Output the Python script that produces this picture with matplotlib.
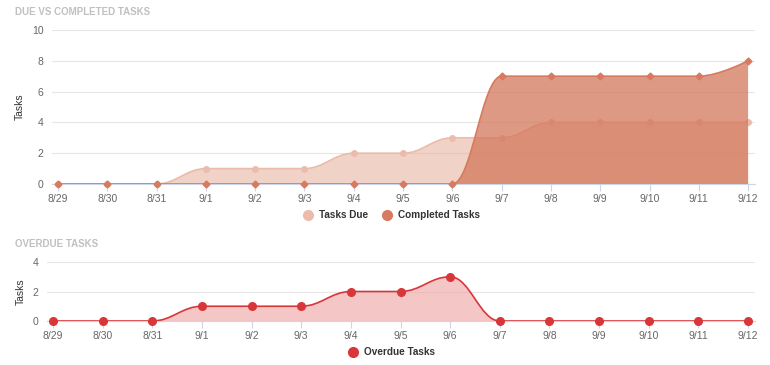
import numpy as np
import matplotlib.pyplot as plt
from matplotlib.path import Path
from matplotlib.patches import PathPatch
from matplotlib.lines import Line2D

days = ['8/29', '8/30', '8/31', '9/1', '9/2', '9/3', '9/4', '9/5',
        '9/6', '9/7', '9/8', '9/9', '9/10', '9/11', '9/12']
tasks_due = [0, 0, 0, 1, 1, 1, 2, 2, 3, 3, 4, 4, 4, 4, 4]
completed = [0, 0, 0, 0, 0, 0, 0, 0, 0, 7, 7, 7, 7, 7, 8]
overdue = [0, 0, 0, 1, 1, 1, 2, 2, 3, 0, 0, 0, 0, 0, 0]

plt.rcParams['font.family'] = ['Liberation Sans', 'DejaVu Sans']


def spline_path(xs, ys, smoothing=1.5):
    # highcharts-like spline: bezier control points per point
    n = len(xs)
    right = [None] * n
    verts = [(xs[0], ys[0])]
    codes = [Path.MOVETO]
    denom = smoothing + 1
    for i in range(1, n):
        px, py = xs[i], ys[i]
        lx, ly = xs[i - 1], ys[i - 1]
        lcx, lcy = px, py
        if i < n - 1:
            nx, ny = xs[i + 1], ys[i + 1]
            lcx = (smoothing * px + lx) / denom
            lcy = (smoothing * py + ly) / denom
            rcx = (smoothing * px + nx) / denom
            rcy = (smoothing * py + ny) / denom
            corr = (rcy - lcy) * (rcx - px) / (rcx - lcx) + py - rcy
            lcy += corr
            rcy += corr
            if lcy > ly and lcy > py:
                lcy = max(ly, py); rcy = 2 * py - lcy
            elif lcy < ly and lcy < py:
                lcy = min(ly, py); rcy = 2 * py - lcy
            if rcy > ny and rcy > py:
                rcy = max(ny, py); lcy = 2 * py - rcy
            elif rcy < ny and rcy < py:
                rcy = min(ny, py); lcy = 2 * py - rcy
            right[i] = (rcx, rcy)
        prev = right[i - 1] if right[i - 1] is not None else (lx, ly)
        verts += [prev, (lcx, lcy), (px, py)]
        codes += [Path.CURVE4] * 3
    return verts, codes


def area_spline(ax, ys, line_c, fill_c, alpha, lw, ms, mc, z, marker='o'):
    xs = list(range(len(ys)))
    verts, codes = spline_path(xs, ys)
    fv = verts + [(xs[-1], 0), (xs[0], 0), (xs[0], ys[0])]
    fc = codes + [Path.LINETO, Path.LINETO, Path.CLOSEPOLY]
    ax.add_patch(PathPatch(Path(fv, fc), facecolor=fill_c, alpha=alpha,
                           edgecolor='none', zorder=z))
    ax.add_patch(PathPatch(Path(verts, codes), facecolor='none',
                           edgecolor=line_c, lw=lw, zorder=z + 0.5))
    ax.plot(xs, ys, marker, color=mc, ms=ms, zorder=z + 1, clip_on=False)


def style(ax, ymax, step):
    ax.set_xlim(-0.12, 14.14)
    ax.set_ylim(0, ymax)
    ax.set_yticks(np.arange(0, ymax + 1, step))
    ax.set_xticks(range(len(days)))
    ax.set_xticklabels(days)
    for s in ['top', 'right', 'left']:
        ax.spines[s].set_visible(False)
    ax.spines['bottom'].set_color('#ccd6eb')
    ax.spines['bottom'].set_zorder(0)
    ax.grid(axis='y', color='#e6e6e6', lw=0.8)
    ax.set_axisbelow(True)
    ax.tick_params(axis='y', length=0, labelsize=7.5, labelcolor='#666666', pad=6)
    ax.tick_params(axis='x', length=5, color='#ccd6eb', labelsize=7.5,
                   labelcolor='#666666', pad=2)
    ax.set_ylabel('Tasks', fontsize=7.5, color='#333333', labelpad=5)


fig = plt.figure(figsize=(7.7, 3.65), dpi=100)

ax1 = fig.add_axes([52 / 770, 1 - 184 / 365, 703 / 770, 154 / 365])
style(ax1, 10, 2)
area_spline(ax1, tasks_due, '#ebbcab', '#e8b4a0', 0.6, 1.2, 4, '#ebbcab', 2)
area_spline(ax1, completed, '#d77a60', '#d4775c', 0.75, 1.2, 3.5, '#d77a60', 3,
            marker='D')

ax2 = fig.add_axes([47 / 770, 1 - 321 / 365, 708 / 770, 59 / 365])
style(ax2, 4, 2)
area_spline(ax2, overdue, '#d9363a', '#f0a8a8', 0.65, 1.2, 5.5, '#d9363a', 2)

fig.text(15 / 770, 1 - 12 / 365, 'DUE VS COMPLETED TASKS', fontsize=7,
         fontweight='bold', color='#c0c0c0', va='center')
fig.text(15 / 770, 1 - 244 / 365, 'OVERDUE TASKS', fontsize=7,
         fontweight='bold', color='#c0c0c0', va='center')

h1 = [Line2D([], [], ls='', marker='o', ms=7, color='#ebbcab'),
      Line2D([], [], ls='', marker='o', ms=7, color='#d77a60')]
fig.legend(h1, ['Tasks Due', 'Completed Tasks'], loc='center',
           bbox_to_anchor=(0.505, 1 - 215 / 365), ncol=2, frameon=False,
           handletextpad=0.1, columnspacing=0.9,
           prop={'weight': 'bold', 'size': 7.2})
h2 = [Line2D([], [], ls='', marker='o', ms=7, color='#d9363a')]
fig.legend(h2, ['Overdue Tasks'], loc='center',
           bbox_to_anchor=(0.505, 1 - 352 / 365), frameon=False,
           handletextpad=0.1, prop={'weight': 'bold', 'size': 7.2})
for t in fig.legends[0].get_texts() + fig.legends[1].get_texts():
    t.set_color('#333333')

fig.savefig('out.png', dpi=100)
